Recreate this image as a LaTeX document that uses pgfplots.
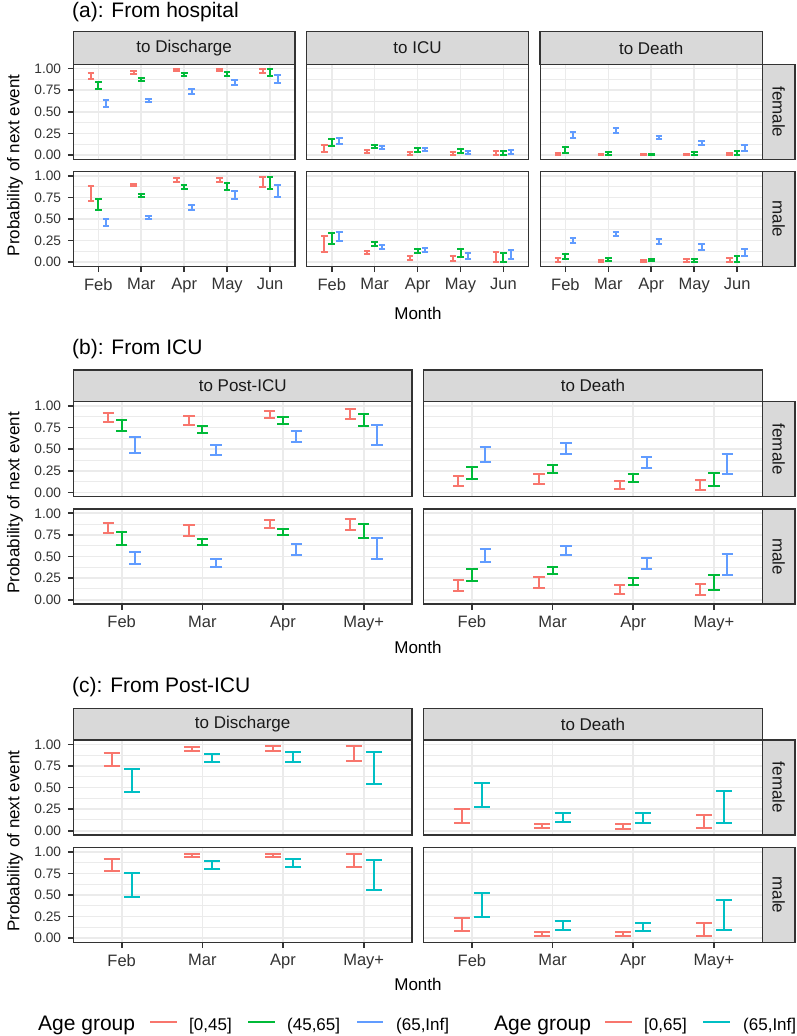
\documentclass[border=0pt]{standalone}
\usepackage{fontspec}
\setmainfont{Liberation Sans}
\usepackage{pgfplots}
\usepackage{pgfplotstable}
\pgfplotsset{compat=1.18}

\definecolor{cR}{HTML}{F8766D}
\definecolor{cG}{HTML}{00BA38}
\definecolor{cB}{HTML}{619CFF}
\definecolor{cT}{HTML}{00BFC4}
\definecolor{g10}{HTML}{1A1A1A}
\definecolor{g20}{HTML}{333333}
\definecolor{g30}{HTML}{4D4D4D}
\definecolor{g85}{HTML}{D9D9D9}
\definecolor{g92}{HTML}{EBEBEB}

\newcommand{\fx}{\fontsize{16.5}{19}\selectfont}
\newcommand{\fy}{\fontsize{13.7}{16}\selectfont}
\newcommand{\fb}{\fontsize{17}{20}\selectfont}
\newcommand{\fc}{\fontsize{21}{25}\selectfont}

% ---------------- data: month, lower/upper per age group ----------------
% (a) From hospital
\pgfplotstableread{
m rl rh gl gh bl bh
1 0.88 0.95 0.76 0.85 0.56 0.64
2 0.94 0.97 0.86 0.89 0.61 0.65
3 0.97 0.995 0.92 0.95 0.71 0.76
4 0.97 0.995 0.92 0.965 0.81 0.87
5 0.95 0.99 0.91 0.99 0.83 0.93
}\aDF
\pgfplotstableread{
m rl rh gl gh bl bh
1 0.71 0.88 0.61 0.73 0.42 0.50
2 0.88 0.91 0.76 0.79 0.50 0.54
3 0.93 0.97 0.85 0.89 0.61 0.66
4 0.93 0.98 0.84 0.92 0.73 0.82
5 0.87 0.99 0.85 0.99 0.75 0.89
}\aDM
\pgfplotstableread{
m rl rh gl gh bl bh
1 0.035 0.12 0.10 0.19 0.13 0.195
2 0.02 0.055 0.085 0.12 0.065 0.10
3 0.005 0.03 0.04 0.08 0.045 0.085
4 0.005 0.03 0.02 0.073 0.01 0.05
5 0.005 0.046 0.005 0.05 0.01 0.06
}\aIF
\pgfplotstableread{
m rl rh gl gh bl bh
1 0.12 0.30 0.21 0.34 0.25 0.35
2 0.09 0.13 0.19 0.235 0.15 0.20
3 0.03 0.075 0.105 0.15 0.115 0.165
4 0.015 0.07 0.055 0.15 0.04 0.105
5 0.005 0.115 0.005 0.105 0.04 0.145
}\aIM
\pgfplotstableread{
m rl rh gl gh bl bh
1 0.0 0.025 0.027 0.088 0.20 0.27
2 0.0 0.015 0.005 0.035 0.26 0.31
3 0.0 0.012 0.002 0.015 0.18 0.22
4 0.0 0.015 0.0 0.03 0.11 0.16
5 0.0 0.023 0.0 0.05 0.05 0.115
}\aXF
\pgfplotstableread{
m rl rh gl gh bl bh
1 0.002 0.05 0.04 0.10 0.22 0.28
2 0.004 0.03 0.015 0.046 0.30 0.345
3 0.0 0.03 0.008 0.034 0.21 0.27
4 0.0 0.038 0.004 0.042 0.14 0.21
5 0.004 0.053 0.0 0.068 0.07 0.155
}\aXM
% (b) From ICU
\pgfplotstableread{
m rl rh gl gh bl bh
1 0.81 0.915 0.71 0.84 0.46 0.64
2 0.785 0.89 0.685 0.765 0.43 0.55
3 0.86 0.94 0.79 0.87 0.585 0.71
4 0.845 0.965 0.765 0.91 0.545 0.78
}\bPF
\pgfplotstableread{
m rl rh gl gh bl bh
1 0.77 0.89 0.63 0.78 0.41 0.555
2 0.74 0.86 0.63 0.70 0.38 0.47
3 0.83 0.92 0.75 0.82 0.52 0.64
4 0.81 0.94 0.71 0.88 0.47 0.71
}\bPM
\pgfplotstableread{
m rl rh gl gh bl bh
1 0.07 0.19 0.155 0.29 0.355 0.525
2 0.095 0.21 0.225 0.32 0.45 0.57
3 0.045 0.135 0.12 0.21 0.285 0.41
4 0.03 0.145 0.075 0.23 0.21 0.45
}\bXF
\pgfplotstableread{
m rl rh gl gh bl bh
1 0.10 0.23 0.22 0.36 0.44 0.59
2 0.13 0.26 0.30 0.375 0.52 0.62
3 0.07 0.17 0.165 0.25 0.355 0.48
4 0.05 0.18 0.115 0.29 0.285 0.525
}\bXM
% (c) From Post-ICU
\pgfplotstableread{
m rl rh tl th
1 0.745 0.905 0.445 0.715
2 0.925 0.97 0.795 0.89
3 0.925 0.98 0.80 0.915
4 0.81 0.975 0.54 0.91
}\cDF
\pgfplotstableread{
m rl rh tl th
1 0.78 0.92 0.48 0.76
2 0.935 0.97 0.805 0.89
3 0.935 0.98 0.83 0.92
4 0.83 0.97 0.56 0.91
}\cDM
\pgfplotstableread{
m rl rh tl th
1 0.09 0.255 0.28 0.555
2 0.027 0.075 0.105 0.21
3 0.025 0.075 0.085 0.205
4 0.027 0.185 0.09 0.465
}\cXF
\pgfplotstableread{
m rl rh tl th
1 0.08 0.23 0.24 0.525
2 0.03 0.07 0.10 0.20
3 0.02 0.07 0.08 0.18
4 0.02 0.18 0.095 0.445
}\cXM

% error bar: colour, x offset, table, low col, high col, cap half width
\newcommand{\eb}[6]{\addplot[draw=none, mark=none, forget plot,
  error bars/.cd, y dir=both, y explicit,
  error bar style={draw=#1, solid, line width=2pt},
  error mark options={draw=#1, solid, line width=2pt, rotate=90, mark size=#6pt}]
  table[x expr=\thisrow{m}+(#2), y expr=(\thisrow{#4}+\thisrow{#5})/2,
        y error plus expr=(\thisrow{#5}-\thisrow{#4})/2,
        y error minus expr=(\thisrow{#5}-\thisrow{#4})/2] {#3};}
\newcommand{\three}[3]{\eb{cR}{-#2}{#1}{rl}{rh}{#3}\eb{cG}{0}{#1}{gl}{gh}{#3}\eb{cB}{#2}{#1}{bl}{bh}{#3}}
\newcommand{\two}[1]{\eb{cR}{-0.125}{#1}{rl}{rh}{8}\eb{cT}{0.125}{#1}{tl}{th}{8}}

\pgfplotsset{
 fac/.style={scale only axis, height=95pt, ymin=-0.05, ymax=1.05,
   ytick={0,0.25,0.5,0.75,1}, yticklabels={}, minor ytick={0.125,0.375,0.625,0.875},
   xmajorgrids, ymajorgrids, yminorgrids,
   major grid style={draw=g92, line width=1.65pt},
   minor grid style={draw=g92, line width=0.83pt},
   axis line style={draw=none},
   tick align=outside, major tick length=5.5pt, minor tick length=0pt,
   xtick pos=lower, ytick pos=left,
   xtick style={draw=none}, ytick style={draw=none},
   xticklabels={},
   xticklabel style={font=\fx, text=g20, inner sep=0pt, anchor=north, yshift=-6pt},
   yticklabel style={font=\fy, text=g20, inner sep=0pt, anchor=east, xshift=-6.5pt},
   /pgf/number format/assume math mode=true,
   after end axis/.code={\draw[g20, line width=1.3pt] (rel axis cs:0,0) rectangle (rel axis cs:1,1);},
   anchor=north west},
 lefty/.style={yticklabels={0.00,0.25,0.50,0.75,1.00}, ytick style={draw=g20, line width=1.65pt}},
 botx/.style={xticklabels={#1}, xtick style={draw=g20, line width=1.65pt}},
 amon/.style={xmin=0.417, xmax=5.583, xtick={1,2,3,4,5}, width=221.8pt},
 bmon/.style={xmin=0.4, xmax=4.6, xtick={1,2,3,4}, width=338.8pt},
}

\newcommand{\strip}[5]{\draw[fill=g85, draw=g20, line width=1.3pt] (#1pt,-#2pt) rectangle (#3pt,-#4pt);
  \node[font=\fb, text=g10] at ({((#1+#3)/2)*1pt},{-((#2+#4)/2)*1pt}) {#5};}
\newcommand{\rstrip}[3]{\draw[fill=g85, draw=g20, line width=1.3pt] (762.3pt,-#1pt) rectangle (795pt,-#2pt);
  \node[font=\fb, text=g10, rotate=-90] at (778.6pt,{-((#1+#2)/2)*1pt}) {#3};}

\begin{document}
\begin{tikzpicture}
\useasboundingbox (0pt,0pt) rectangle (797pt,-1036pt);

% ================= (a) =================
\node[anchor=base west, inner sep=0pt, font=\fc] at (72pt,-17pt) {(a): From hospital};
\strip{73.3}{31.7}{295}{64.3}{to Discharge}
\strip{306.7}{31.7}{528.3}{64.3}{to ICU}
\strip{540}{31.7}{762.3}{64.3}{to Death}
\rstrip{64.3}{159.3}{female}
\rstrip{171.5}{266.5}{male}

\begin{axis}[fac, amon, lefty, at={(73.3pt,-64.3pt)}]
\three{\aDF}{0.175}{3.3}
\end{axis}
\begin{axis}[fac, amon, at={(306.7pt,-64.3pt)}]
\three{\aIF}{0.175}{3.3}
\end{axis}
\begin{axis}[fac, amon, at={(540.4pt,-64.3pt)}]
\three{\aXF}{0.175}{3.3}
\end{axis}
\begin{axis}[fac, amon, lefty, botx={Feb,Mar,Apr,May,Jun}, at={(73.3pt,-171.5pt)}]
\three{\aDM}{0.175}{3.3}
\end{axis}
\begin{axis}[fac, amon, botx={Feb,Mar,Apr,May,Jun}, at={(306.7pt,-171.5pt)}]
\three{\aIM}{0.175}{3.3}
\end{axis}
\begin{axis}[fac, amon, botx={Feb,Mar,Apr,May,Jun}, at={(540.4pt,-171.5pt)}]
\three{\aXM}{0.175}{3.3}
\end{axis}
\node[rotate=90, font=\fb, anchor=base] at (19.5pt,-165.3pt) {Probability of next event};
\node[font=\fb, anchor=base] at (418pt,-319pt) {Month};

% ================= (b) =================
\node[anchor=base west, inner sep=0pt, font=\fc] at (72pt,-354pt) {(b): From ICU};
\strip{73.3}{370}{412.1}{401.7}{to Post\string-ICU}
\strip{423.5}{370}{762.3}{401.7}{to Death}
\rstrip{401.7}{496.7}{female}
\rstrip{509}{604}{male}

\begin{axis}[fac, bmon, lefty, at={(73.3pt,-401.7pt)}]
\three{\bPF}{0.1667}{5.7}
\end{axis}
\begin{axis}[fac, bmon, at={(423.5pt,-401.7pt)}]
\three{\bXF}{0.1667}{5.7}
\end{axis}
\begin{axis}[fac, bmon, lefty, botx={Feb,Mar,Apr,May+}, at={(73.3pt,-509pt)}]
\three{\bPM}{0.1667}{5.7}
\end{axis}
\begin{axis}[fac, bmon, botx={Feb,Mar,Apr,May+}, at={(423.5pt,-509pt)}]
\three{\bXM}{0.1667}{5.7}
\end{axis}
\node[rotate=90, font=\fb, anchor=base] at (19.5pt,-502.8pt) {Probability of next event};
\node[font=\fb, anchor=base] at (418pt,-653pt) {Month};

% ================= (c) =================
\node[anchor=base west, inner sep=0pt, font=\fc] at (72pt,-692pt) {(c): From Post\string-ICU};
\strip{73.3}{708.3}{412.1}{740}{to Discharge}
\strip{423.5}{708.3}{762.3}{740}{to Death}
\rstrip{740}{835}{female}
\rstrip{847.5}{942.5}{male}

\begin{axis}[fac, bmon, lefty, at={(73.3pt,-740pt)}]
\two{\cDF}
\end{axis}
\begin{axis}[fac, bmon, at={(423.5pt,-740pt)}]
\two{\cXF}
\end{axis}
\begin{axis}[fac, bmon, lefty, botx={Feb,Mar,Apr,May+}, at={(73.3pt,-847.5pt)}]
\two{\cDM}
\end{axis}
\begin{axis}[fac, bmon, botx={Feb,Mar,Apr,May+}, at={(423.5pt,-847.5pt)}]
\two{\cXM}
\end{axis}
\node[rotate=90, font=\fb, anchor=base] at (19.5pt,-841.2pt) {Probability of next event};
\node[font=\fb, anchor=base] at (418pt,-990pt) {Month};

% ================= legends =================
\node[anchor=base west, inner sep=0pt, font=\fc] at (38pt,-1030pt) {Age group};
\draw[cR, line width=1.65pt] (150pt,-1022.3pt) -- (177pt,-1022.3pt);
\node[anchor=base west, inner sep=0pt, font=\fb] at (189pt,-1030pt) {[0,45]};
\draw[cG, line width=1.65pt] (248pt,-1022.3pt) -- (275pt,-1022.3pt);
\node[anchor=base west, inner sep=0pt, font=\fb] at (287pt,-1030pt) {(45,65]};
\draw[cB, line width=1.65pt] (357pt,-1022.3pt) -- (383pt,-1022.3pt);
\node[anchor=base west, inner sep=0pt, font=\fb] at (396pt,-1030pt) {(65,Inf]};
\node[anchor=base west, inner sep=0pt, font=\fc] at (494pt,-1030pt) {Age group};
\draw[cR, line width=1.65pt] (605pt,-1022.3pt) -- (632pt,-1022.3pt);
\node[anchor=base west, inner sep=0pt, font=\fb] at (644pt,-1030pt) {[0,65]};
\draw[cT, line width=1.65pt] (703pt,-1022.3pt) -- (730pt,-1022.3pt);
\node[anchor=base west, inner sep=0pt, font=\fb] at (743pt,-1030pt) {(65,Inf]};
\end{tikzpicture}
\end{document}
